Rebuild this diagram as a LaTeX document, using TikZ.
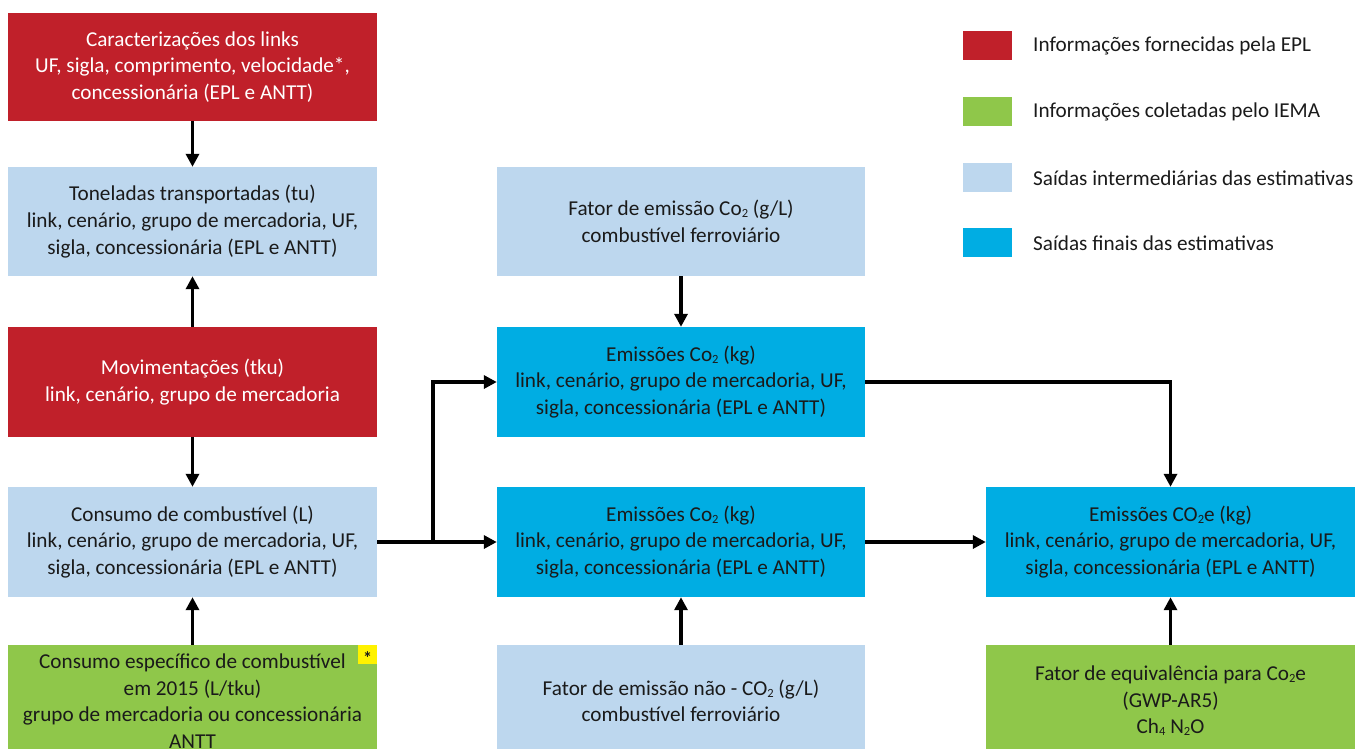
\documentclass[tikz,border=0pt]{standalone}
\usepackage{fontspec}
\setmainfont{Carlito}
\usetikzlibrary{arrows.meta}
\definecolor{eplred}{HTML}{C0202A}
\definecolor{iemagreen}{HTML}{8FC74A}
\definecolor{interblue}{HTML}{BDD7EE}
\definecolor{finalblue}{HTML}{00ADE3}
\definecolor{ink}{HTML}{1A1A1A}
\newcommand\lowsub[1]{\raisebox{-0.2ex}{\fontsize{12.5}{12.5}\selectfont #1}}
\begin{document}
\begin{tikzpicture}[x=1pt,y=-1pt,
  box/.style={rectangle, inner sep=0pt, minimum width=369, minimum height=110, align=center,
    font=\fontsize{21.2}{26.6}\selectfont, text=ink},
  redbox/.style={box, fill=eplred, text=white},
  greenbox/.style={box, fill=iemagreen},
  lbbox/.style={box, fill=interblue},
  bluebox/.style={box, fill=finalblue},
  legsq/.style={rectangle, inner sep=0pt, minimum width=49, minimum height=29},
  legtxt/.style={anchor=west, inner sep=0pt, font=\fontsize{21.2}{24}\selectfont, text=ink},
  arr/.style={line width=3.3pt, -{Triangle[length=13pt,width=13pt]}}]
\useasboundingbox (0,0) rectangle (1357,748);
\clip (0,0) rectangle (1357,748);

% left column
\node[redbox, minimum height=108] (c1) at (192.5,67) {Caracterizações dos links\\UF, sigla, comprimento, velocidade*,\\concessionária (EPL e ANTT)};
\node[lbbox, minimum height=109] (t1) at (192.5,221.5) {Toneladas transportadas (tu)\\link, cenário, grupo de mercadoria, UF,\\sigla, concessionária (EPL e ANTT)};
\node[redbox] (m1) at (192.5,382) {Movimentações (tku)\\link, cenário, grupo de mercadoria};
\node[lbbox] (f1) at (192.5,542) {Consumo de combustível (L)\\link, cenário, grupo de mercadoria, UF,\\sigla, concessionária (EPL e ANTT)};
\node[greenbox, minimum height=112] (g1) at (192.5,701) {Consumo específico de combustível\\em 2015 (L/tku)\\grupo de mercadoria ou concessionária\\ANTT};
\node[rectangle, fill=yellow, inner sep=0pt, minimum width=19, minimum height=19, text=ink] (ast) at (367.5,654.5) {};
\node[inner sep=0pt, font=\bfseries\fontsize{18}{18}\selectfont, text=ink] (astx) at (367.5,658) {*};

% middle column
\node[lbbox, minimum width=368, minimum height=109] (fe) at (681,221.5) {Fator de emissão Co\lowsub{2} (g/L)\\combustível ferroviário};
\node[bluebox, minimum width=368] (e1) at (681,382) {Emissões Co\lowsub{2} (kg)\\link, cenário, grupo de mercadoria, UF,\\sigla, concessionária (EPL e ANTT)};
\node[bluebox, minimum width=368] (e2) at (681,542) {Emissões Co\lowsub{2} (kg)\\link, cenário, grupo de mercadoria, UF,\\sigla, concessionária (EPL e ANTT)};
\node[lbbox, minimum width=368, minimum height=112] (fn) at (681,701) {Fator de emissão não - CO\lowsub{2} (g/L)\\combustível ferroviário};

% right column
\node[bluebox] (ec) at (1170.5,542) {Emissões CO\lowsub{2}e (kg)\\link, cenário, grupo de mercadoria, UF,\\sigla, concessionária (EPL e ANTT)};
\node[greenbox, minimum height=112] (gw) at (1170.5,701) {Fator de equivalência para Co\lowsub{2}e\\(GWP-AR5)\\Ch\lowsub{4} N\lowsub{2}O};

% legend
\node[legsq, fill=eplred] (l1) at (987.5,45.5) {};
\node[legsq, fill=iemagreen] (l2) at (987.5,111.5) {};
\node[legsq, fill=interblue] (l3) at (987.5,177.5) {};
\node[legsq, fill=finalblue] (l4) at (987.5,242.5) {};
\node[legtxt] (lt1) at (1033,46) {Informações fornecidas pela EPL};
\node[legtxt] (lt2) at (1033,112) {Informações coletadas pelo IEMA};
\node[legtxt] (lt3) at (1033,178) {Saídas intermediárias das estimativas};
\node[legtxt] (lt4) at (1033,243) {Saídas finais das estimativas};

% connectors
\draw[arr] (c1.south) -- (t1.north);
\draw[arr] (m1.north) -- (t1.south);
\draw[arr] (m1.south) -- (f1.north);
\draw[arr] (g1.north) -- (f1.south);
\draw[arr] (fe.south) -- (e1.north);
\draw[arr] (fn.north) -- (e2.south);
\draw[arr] (gw.north) -- (ec.south);
\draw[arr] (f1.east) -- (e2.west);
\coordinate (br) at (433,542);
\draw[arr] (br) |- (e1.west);
\draw[arr] (e1.east) -| (ec.north);
\draw[arr] (e2.east) -- (ec.west);
\end{tikzpicture}
\end{document}
